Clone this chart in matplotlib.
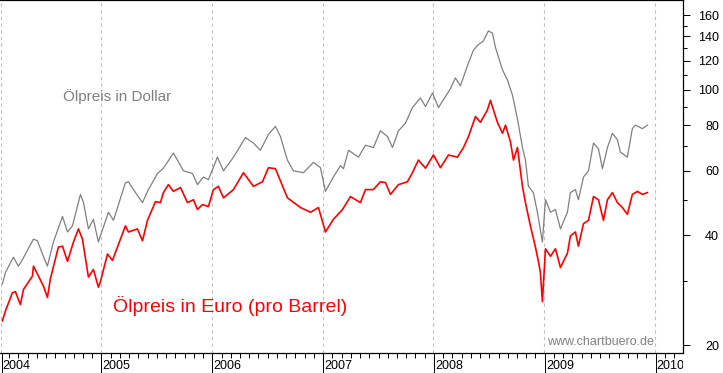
import matplotlib
matplotlib.use("Agg")
import matplotlib.pyplot as plt
from matplotlib.ticker import FixedLocator, NullFormatter
from matplotlib.transforms import Bbox, TransformedBbox

plt.rcParams['font.family'] = ['Liberation Sans', 'DejaVu Sans']

# Oelpreis in Dollar (grau), Zeit als Dezimaljahr
usd_t = [2004.106, 2004.133, 2004.205, 2004.250, 2004.287, 2004.386, 2004.422, 2004.467,
         2004.512, 2004.566, 2004.648, 2004.693, 2004.738, 2004.810, 2004.837, 2004.882,
         2004.927, 2004.972, 2004.990, 2005.063, 2005.108, 2005.216, 2005.243, 2005.288,
         2005.370, 2005.415, 2005.505, 2005.559, 2005.649, 2005.740, 2005.821, 2005.866,
         2005.920, 2005.965, 2006.046, 2006.101, 2006.191, 2006.299, 2006.371, 2006.434,
         2006.507, 2006.570, 2006.615, 2006.678, 2006.732, 2006.823, 2006.913, 2006.976,
         2007.021, 2007.093, 2007.157, 2007.184, 2007.229, 2007.319, 2007.382, 2007.454,
         2007.517, 2007.581, 2007.626, 2007.680, 2007.743, 2007.806, 2007.878, 2007.924,
         2007.987, 2008.041, 2008.149, 2008.194, 2008.239, 2008.312, 2008.357, 2008.393,
         2008.447, 2008.492, 2008.528, 2008.555, 2008.619, 2008.664, 2008.709, 2008.754,
         2008.799, 2008.826, 2008.853, 2008.898, 2008.934, 2008.979, 2009.007, 2009.052,
         2009.097, 2009.142, 2009.205, 2009.232, 2009.277, 2009.304, 2009.350, 2009.395,
         2009.440, 2009.485, 2009.521, 2009.566, 2009.611, 2009.656, 2009.683, 2009.746,
         2009.791, 2009.819, 2009.882, 2009.927]
usd = [29.4, 31.6, 34.8, 32.9, 34.3, 39.0, 38.6, 35.5,
       32.9, 38.3, 45.0, 40.8, 42.4, 51.7, 49.2, 41.6,
       44.2, 38.3, 39.8, 46.2, 43.9, 55.7, 56.0, 53.3,
       49.1, 52.7, 59.0, 61.0, 67.1, 60.0, 59.0, 55.0,
       57.7, 56.7, 65.4, 60.0, 65.4, 74.0, 71.5, 68.3,
       75.5, 79.4, 74.5, 64.2, 60.0, 59.3, 63.3, 61.2,
       52.7, 57.7, 62.0, 60.8, 68.3, 65.4, 70.5, 69.5,
       77.2, 74.5, 69.5, 77.2, 81.0, 89.4, 95.0, 90.0,
       98.0, 89.4, 100.7, 107.8, 102.5, 118.5, 128.5, 132.3,
       136.2, 145.0, 143.0, 130.8, 113.4, 106.3, 96.7, 83.2,
       69.6, 64.2, 54.4, 52.3, 46.2, 38.3, 50.0, 46.2,
       47.0, 41.6, 46.2, 52.3, 53.3, 50.0, 57.7, 60.0,
       71.5, 69.0, 60.8, 69.5, 76.0, 73.0, 67.5, 65.4,
       78.3, 80.0, 78.3, 80.0]

# Oelpreis in Euro (rot)
eur_t = [2004.106, 2004.133, 2004.196, 2004.223, 2004.268, 2004.296, 2004.377, 2004.386,
         2004.431, 2004.476, 2004.512, 2004.539, 2004.611, 2004.648, 2004.693, 2004.747,
         2004.792, 2004.828, 2004.882, 2004.927, 2004.972, 2004.990, 2005.054, 2005.099,
         2005.144, 2005.216, 2005.243, 2005.324, 2005.370, 2005.415, 2005.487, 2005.532,
         2005.559, 2005.604, 2005.649, 2005.713, 2005.776, 2005.830, 2005.866, 2005.911,
         2005.965, 2006.010, 2006.055, 2006.101, 2006.191, 2006.281, 2006.371, 2006.453,
         2006.507, 2006.570, 2006.678, 2006.796, 2006.886, 2006.958, 2007.021, 2007.093,
         2007.175, 2007.247, 2007.337, 2007.382, 2007.454, 2007.517, 2007.563, 2007.608,
         2007.680, 2007.761, 2007.806, 2007.860, 2007.924, 2007.996, 2008.059, 2008.131,
         2008.212, 2008.267, 2008.312, 2008.375, 2008.420, 2008.483, 2008.510, 2008.537,
         2008.573, 2008.619, 2008.646, 2008.691, 2008.718, 2008.754, 2008.799, 2008.826,
         2008.871, 2008.916, 2008.943, 2008.961, 2008.979, 2009.007, 2009.052, 2009.097,
         2009.142, 2009.205, 2009.232, 2009.277, 2009.304, 2009.350, 2009.395, 2009.440,
         2009.485, 2009.530, 2009.566, 2009.611, 2009.656, 2009.701, 2009.746, 2009.791,
         2009.837, 2009.882, 2009.927]
eur = [23.3, 24.8, 27.8, 28.0, 25.8, 28.4, 30.9, 32.9,
       30.9, 29.0, 27.0, 30.4, 37.1, 37.3, 33.9, 38.3,
       41.6, 39.0, 30.7, 32.2, 28.8, 29.8, 35.5, 34.1,
       37.1, 42.4, 40.8, 41.6, 38.6, 43.9, 49.4, 49.1,
       52.3, 55.0, 52.7, 54.0, 49.1, 50.0, 47.0, 48.5,
       47.9, 53.3, 54.4, 50.6, 53.3, 59.3, 54.4, 56.0,
       61.2, 60.8, 50.6, 47.6, 46.2, 47.6, 40.8, 44.2,
       47.0, 51.0, 49.1, 53.3, 53.3, 56.0, 55.7, 51.7,
       55.0, 56.0, 59.3, 64.2, 61.0, 66.3, 61.2, 66.3,
       65.4, 69.5, 74.5, 84.5, 81.5, 88.1, 93.6, 88.1,
       81.5, 76.0, 80.0, 72.0, 64.2, 69.5, 54.4, 49.1,
       42.4, 37.1, 33.9, 31.6, 26.3, 36.7, 35.0, 36.7,
       32.6, 35.7, 39.8, 40.8, 37.3, 43.0, 43.9, 51.0,
       50.0, 43.9, 50.0, 52.3, 49.1, 47.6, 45.6, 51.7,
       52.7, 51.7, 52.3]

years = [2004, 2005, 2006, 2007, 2008, 2009, 2010]
y_major = [20, 40, 60, 80, 100, 120, 140, 160]
y_minor = [30, 50, 70, 90, 110, 130, 150]

x_left, x_right = 2004.084, 2010.248

fig = plt.figure(figsize=(7.23, 3.73), dpi=100)
ax = fig.add_axes([0, 20 / 373, 683 / 723, 353 / 373])

ax.plot(usd_t, usd, color='#808080', lw=0.9)
ax.plot(eur_t, eur, color='#ff0000', lw=1.2)

ax.set_yscale('log')
ax.set_ylim(19.02, 176.2)
ax.set_xlim(x_left, x_right)

# y-Achse rechts
ax.yaxis.tick_right()
ax.yaxis.set_major_locator(FixedLocator(y_major))
ax.yaxis.set_minor_locator(FixedLocator(y_minor))
ax.set_yticklabels([str(v) for v in y_major])
ax.yaxis.set_minor_formatter(NullFormatter())
ax.tick_params(axis='y', which='major', length=5, width=0.72, pad=21, labelsize=9)
ax.tick_params(axis='y', which='minor', length=3, width=0.72)
for lab in ax.get_yticklabels():
    lab.set_horizontalalignment('right')

# x-Achse: Jahre mit langen Strichen, Monate kurz
xt = [x_left + 1.5 / 110.8] + years[1:]
ax.set_xticks(xt)
ax.set_xticklabels([])
minor = [y + m / 12 for y in years for m in range(1, 12) if x_left < y + m / 12 < x_right]
ax.set_xticks(minor, minor=True)
ax.tick_params(axis='x', which='major', length=14.5, width=0.72)
ax.tick_params(axis='x', which='minor', length=3.6, width=0.72)

clip = TransformedBbox(Bbox([[0, 0], [683 / 723, 1]]), fig.transFigure)
for pos, yr in zip(xt, years):
    t = ax.text(pos + 1.2 / 110.8, -0.045, str(yr), transform=ax.get_xaxis_transform(),
                ha='left', va='baseline', fontsize=9, clip_on=True)
    t.set_clip_box(clip)
    ax.axvline(pos - 0.5 / 110.8, color='#c0c0c0', lw=0.8, ls=(0, (3, 3)), zorder=0)

ax.spines['left'].set_visible(False)
for s in ['top', 'right', 'bottom']:
    ax.spines[s].set_linewidth(0.9)

ax.text(0.092, 0.715, 'Ölpreis in Dollar', transform=ax.transAxes, color='#808080',
        fontsize=11, va='baseline')
ax.text(0.1654, 0.116, 'Ölpreis in Euro (pro Barrel)', transform=ax.transAxes,
        color='#ff0000', fontsize=14, va='baseline')
ax.text(0.801, 0.0227, 'www.chartbuero.de', transform=ax.transAxes, color='#808080',
        fontsize=9, va='baseline')

plt.savefig('out.png', dpi=100)
